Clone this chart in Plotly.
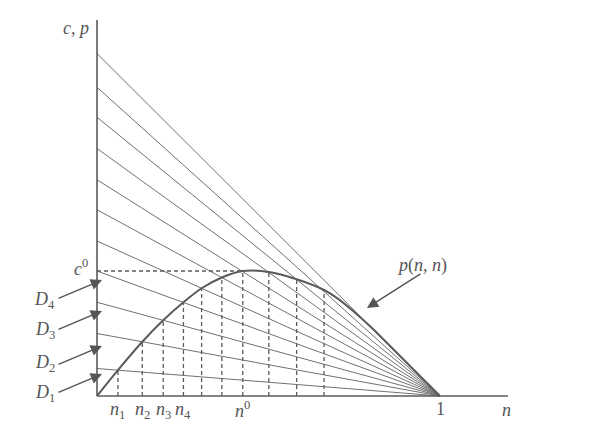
import plotly.graph_objects as go

# intercepts of the demand lines on the c,p axis (c0 = 1)
intercepts = [0.22, 0.50, 0.75, 1.00, 1.24, 1.49, 1.73, 1.98, 2.23, 2.47, 2.74]
# n values where the curve p(n,n) meets the lines (dashed verticals)
n_marks = [0.061, 0.132, 0.193, 0.252, 0.305, 0.364, 0.425, 0.501, 0.582, 0.662]
# curve p(n,n) points
curve_n = [0.0, 0.061, 0.132, 0.193, 0.252, 0.305, 0.364, 0.425, 0.501, 0.582, 0.662, 0.704, 0.75, 0.80, 0.90, 1.0]
curve_p = [0.0, 0.207, 0.434, 0.606, 0.750, 0.862, 0.948, 1.0, 0.992, 0.934, 0.848, 0.775, 0.672, 0.548, 0.274, 0.0]
n_labels = ["1", "2", "3", "4"]
d_labels = ["1", "2", "3", "4"]
d_arrow_p = [0.176, 0.40, 0.68, 0.928]
d_label_p = [0.024, 0.264, 0.528, 0.768]
c0 = 1.0
n0 = 0.425

LINE = "#707070"
AX = "#5a5a5a"
FONT = "Liberation Serif"
DASH = "4px,3px"

fig = go.Figure()

for a in intercepts:
    fig.add_trace(go.Scatter(x=[0, 1], y=[a, 0], mode="lines",
                             line=dict(color=LINE, width=1), hoverinfo="skip"))

for nm in n_marks:
    pv = curve_p[curve_n.index(nm)]
    fig.add_trace(go.Scatter(x=[nm, nm], y=[0, pv], mode="lines",
                             line=dict(color=AX, width=1.3, dash=DASH), hoverinfo="skip"))

fig.add_trace(go.Scatter(x=[0, n0], y=[c0, c0], mode="lines",
                         line=dict(color=AX, width=1.3, dash=DASH), hoverinfo="skip"))

fig.add_trace(go.Scatter(x=curve_n, y=curve_p, mode="lines", line_shape="spline",
                         line=dict(color="#5a5a5a", width=2, smoothing=0.8), hoverinfo="skip"))

# axes
fig.add_trace(go.Scatter(x=[0, 0], y=[0, 3.008], mode="lines",
                         line=dict(color=AX, width=1.6), hoverinfo="skip"))
fig.add_trace(go.Scatter(x=[0, 1.198], y=[0, 0], mode="lines",
                         line=dict(color=AX, width=1.6), hoverinfo="skip"))

ann = []
def lab(x, y, t, size=18):
    ann.append(dict(x=x, y=y, text=t, showarrow=False, xref="x", yref="y",
                    font=dict(family=FONT, size=size, color="#555555")))

lab(-0.062, 2.944, "<i>c, p</i>")
lab(-0.047, 1.03, "<i>c</i><sup>0</sup>")
for t, pv in zip(d_labels, d_label_p):
    lab(-0.152, pv, "<i>D</i><sub>" + t + "</sub>")
for t, nm in zip(n_labels, n_marks[:4]):
    lab(nm, -0.112, "<i>n</i><sub>" + t + "</sub>")
lab(n0, -0.105, "<i>n</i><sup>0</sup>")
lab(1.0, -0.1, "1")
lab(1.195, -0.112, "<i>n</i>")
lab(0.948, 1.048, "<i>p</i>(<i>n</i>, <i>n</i>)")

for pv in d_arrow_p:
    ann.append(dict(x=0.0146, y=pv, xref="x", yref="y", text="", showarrow=True,
                    ax=-45, ay=19, arrowhead=2, arrowsize=1.5, arrowwidth=1.5,
                    arrowcolor="#555555"))
ann.append(dict(x=0.787, y=0.704, xref="x", yref="y", text="", showarrow=True,
                ax=55, ay=-35, arrowhead=2, arrowsize=1.5, arrowwidth=1.5,
                arrowcolor="#555555"))

fig.update_layout(
    width=599, height=430, margin=dict(l=0, r=0, t=0, b=0),
    paper_bgcolor="white", plot_bgcolor="white", showlegend=False,
    xaxis=dict(range=[-0.2595, 1.4869], visible=False, fixedrange=True),
    yaxis=dict(range=[-0.336, 3.104], visible=False, fixedrange=True),
    annotations=ann,
)

fig.write_html("out.html")
